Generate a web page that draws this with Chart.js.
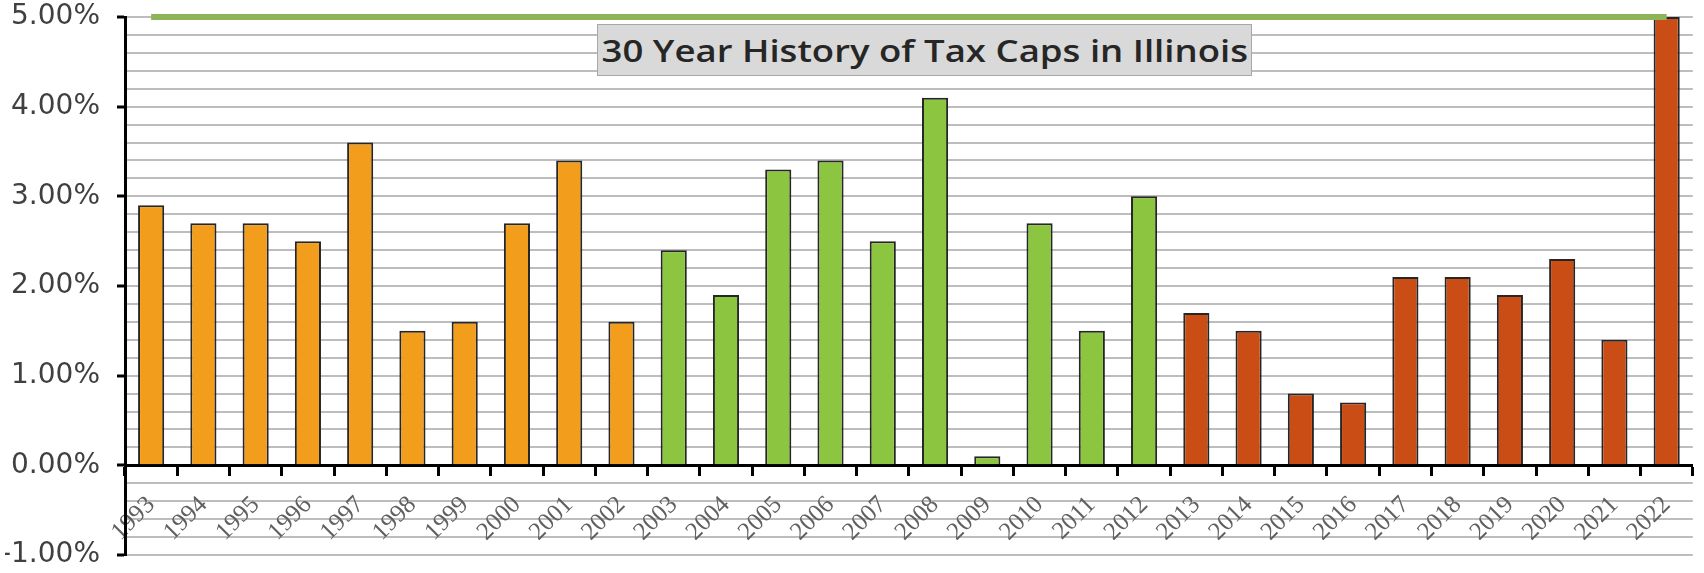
<!DOCTYPE html>
<html>
<head>
<meta charset="utf-8">
<script src="https://cdn.jsdelivr.net/npm/chart.js@4.4.1/dist/chart.umd.min.js"></script>
<style>
  html, body { margin: 0; padding: 0; background: #ffffff; }
  #wrap { position: relative; width: 1704px; height: 573px; }
  #title {
    position: absolute; left: 597px; top: 24px; width: 655px; height: 52px;
    background: #d9d9d9; border: 1px solid #a8a8a8; box-sizing: border-box;
    font-family: "Open Sans", "Liberation Sans", sans-serif; font-weight: 600;
    font-size: 31px; color: #262626; line-height: 50px; white-space: nowrap;
    overflow: visible;
  }
  #title span { display: inline-block; transform-origin: 0 50%; padding-left: 3px; }
</style>
</head>
<body>
<div id="wrap">
  <canvas id="c" width="1704" height="573"></canvas>
  <div id="title"><span id="ttext">30 Year History of Tax Caps in Illinois</span></div>
</div>
<script>
const years = ["1993","1994","1995","1996","1997","1998","1999","2000","2001","2002",
               "2003","2004","2005","2006","2007","2008","2009","2010","2011","2012",
               "2013","2014","2015","2016","2017","2018","2019","2020","2021","2022"];
const taxCap = [2.9, 2.7, 2.7, 2.5, 3.6, 1.5, 1.6, 2.7, 3.4, 1.6,
                2.4, 1.9, 3.3, 3.4, 2.5, 4.1, 0.1, 2.7, 1.5, 3.0,
                1.7, 1.5, 0.8, 0.7, 2.1, 2.1, 1.9, 2.3, 1.4, 5.0];
const capLimit = [5, 5, 5, 5, 5, 5, 5, 5, 5, 5,
                  5, 5, 5, 5, 5, 5, 5, 5, 5, 5,
                  5, 5, 5, 5, 5, 5, 5, 5, 5, 5];
const yMin = -1, yMax = 5, yStep = 0.2;

function barColor(ctx) {
  const y = parseInt(years[ctx.dataIndex], 10);
  if (y < 2003) return '#F39D1C';
  if (y < 2013) return '#8CC53F';
  return '#C94D14';
}
function isMajor(v) { return Math.abs(v - Math.round(v)) < 1e-6; }

new Chart(document.getElementById('c'), {
  data: {
    labels: years,
    datasets: [
      {
        type: 'line', data: capLimit, borderColor: '#8DB457', borderWidth: 6,
        pointRadius: 0, fill: false, order: 0, clip: false
      },
      {
        type: 'bar', data: taxCap, backgroundColor: barColor,
        borderColor: '#262626', borderWidth: 2,
        barPercentage: 0.5, categoryPercentage: 1.0, order: 1
      }
    ]
  },
  options: {
    responsive: false, animation: false,
    layout: { padding: { left: 5, right: 6, top: 17, bottom: 18 } },
    plugins: { legend: { display: false }, tooltip: { enabled: false }, title: { display: false } },
    scales: {
      x: {
        position: { y: 0 },
        offset: true,
        grid: { display: true, drawOnChartArea: false, drawTicks: true, offset: true,
                tickLength: 9, tickWidth: 3, tickColor: '#000' },
        border: { display: true, color: '#000', width: 3 },
        ticks: { autoSkip: false, minRotation: 45, maxRotation: 45, padding: 16,
                 color: '#606060', font: { family: 'Liberation Serif', size: 25 } }
      },
      y: {
        min: yMin, max: yMax,
        afterFit: s => { s.width = 120; s.paddingTop = 0; s.paddingBottom = 0; },
        grid: { color: '#bdbdbd', lineWidth: 2, drawTicks: true, tickLength: 8, tickWidth: 3,
                tickColor: ctx => (ctx.tick && isMajor(ctx.tick.value)) ? '#000' : 'rgba(0,0,0,0)' },
        border: { display: true, color: '#000', width: 3 },
        ticks: {
          stepSize: yStep, autoSkip: false, padding: 17, color: '#404040',
          font: { family: 'DejaVu Sans', size: 28 },
          callback: v => isMajor(v) ? Math.round(v).toFixed(2) + '%' : ''
        }
      }
    }
  }
});

(function fitTitle() {
  const el = document.getElementById('ttext');
  const w = el.getBoundingClientRect().width;
  const target = 650;
  el.style.transform = 'scaleX(' + (target / w) + ')';
})();
</script>
</body>
</html>
